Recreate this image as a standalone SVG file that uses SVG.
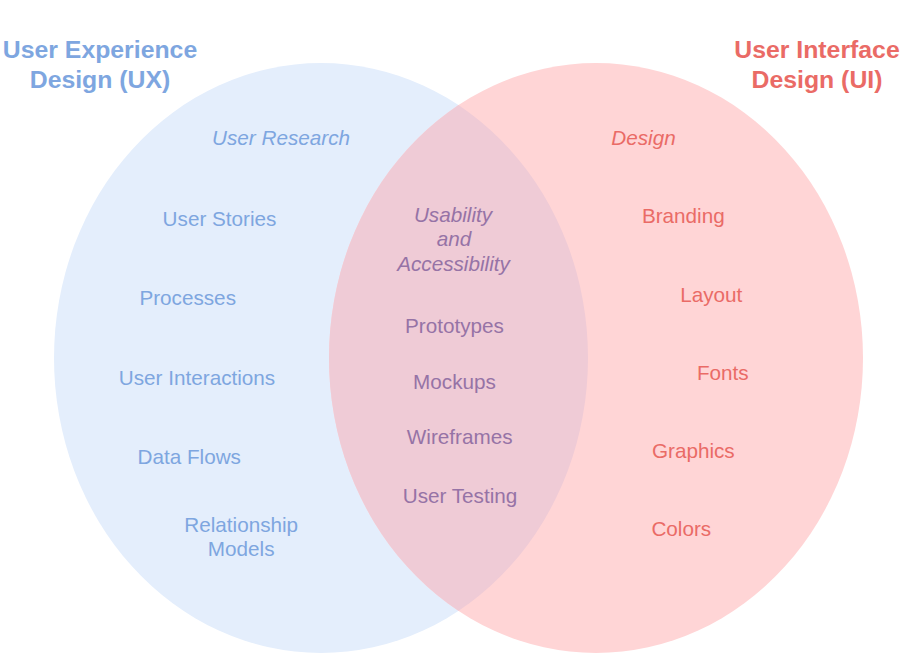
<svg xmlns="http://www.w3.org/2000/svg" width="909" height="657" viewBox="0 0 909 657">
<style>
text{font-family:"Liberation Sans",Arial,Helvetica,sans-serif;text-anchor:middle;font-size:20.7px}
.title{font-weight:bold;font-size:24.8px}
.it{font-style:italic}
.ux{fill:#7ea6e0}
.ui{fill:#ea6b66}
.mid{fill:#9673a6}
</style>
<defs>
<clipPath id="clipL"><ellipse cx="321" cy="358" rx="267" ry="295"/></clipPath>
</defs>
<rect width="909" height="657" fill="#ffffff"/>
<g id="ux-circle"><ellipse cx="321" cy="358" rx="267" ry="295" fill="#e4eefc"/></g>
<g id="ui-circle"><ellipse cx="596" cy="358" rx="267" ry="295" fill="#ffd5d6"/></g>
<g id="overlap"><ellipse cx="596" cy="358" rx="267" ry="295" fill="#efcbd6" clip-path="url(#clipL)"/></g>
<g id="connectors"></g>
<g id="ux-title" class="ux"><text class="title" x="100" y="58">User Experience</text><text class="title" x="100" y="88">Design (UX)</text></g>
<g id="ui-title" class="ui"><text class="title" x="817" y="58">User Interface</text><text class="title" x="817" y="88">Design (UI)</text></g>
<g id="ux-items" class="ux">
<text class="it" x="281" y="145">User Research</text>
<text x="219.5" y="225.7">User Stories</text>
<text x="187.7" y="304.5">Processes</text>
<text x="197" y="385">User Interactions</text>
<text x="189.2" y="464">Data Flows</text>
<text x="241.2" y="531.5">Relationship</text>
<text x="241.2" y="556">Models</text>
</g>
<g id="mid-items" class="mid">
<text class="it" x="453" y="221.7">Usability</text>
<text class="it" x="454" y="246">and</text>
<text class="it" x="453.5" y="270.5">Accessibility</text>
<text x="454.5" y="332.7">Prototypes</text>
<text x="454.5" y="389">Mockups</text>
<text x="459.7" y="444">Wireframes</text>
<text x="460" y="503.3">User Testing</text>
</g>
<g id="ui-items" class="ui">
<text class="it" x="643.5" y="145">Design</text>
<text x="683.3" y="223.3">Branding</text>
<text x="711.3" y="301.7">Layout</text>
<text x="722.8" y="379.5">Fonts</text>
<text x="693.3" y="457.5">Graphics</text>
<text x="681.3" y="535.5">Colors</text>
</g>
</svg>
